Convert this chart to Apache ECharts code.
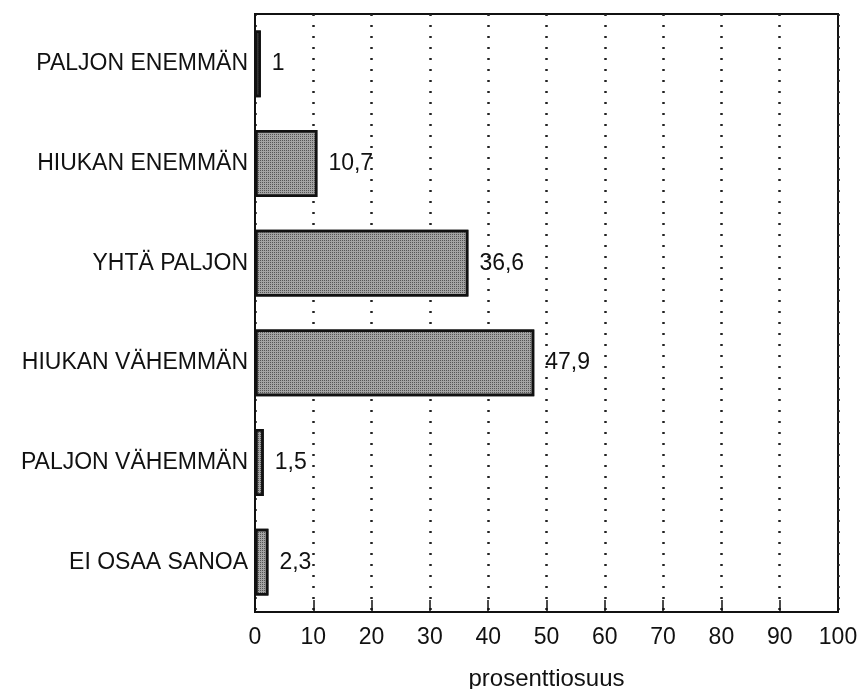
<!DOCTYPE html>
<html>
<head>
<meta charset="utf-8">
<script src="https://cdn.jsdelivr.net/npm/echarts@6/dist/echarts.min.js"></script>
<style>html,body{margin:0;padding:0;background:#fff}#c{width:864px;height:689px}</style>
</head>
<body>
<div id="c"></div>
<script>
const categories = ['PALJON ENEMMÄN', 'HIUKAN ENEMMÄN', 'YHTÄ PALJON', 'HIUKAN VÄHEMMÄN', 'PALJON VÄHEMMÄN', 'EI OSAA SANOA'];
const values = [1, 10.7, 36.6, 47.9, 1.5, 2.3];
const xTicks = [0, 10, 20, 30, 40, 50, 60, 70, 80, 90, 100];
const xName = 'prosenttiosuus';

const font = '"Liberation Sans", Arial, Helvetica, sans-serif';
const chart = echarts.init(document.getElementById('c'), null, {renderer: 'canvas'});
chart.setOption({
  animation: false,
  backgroundColor: '#fff',
  grid: {left: 255, top: 14, right: 26, bottom: 77, containLabel: false, outerBoundsMode: 'none',
    show: true, borderColor: '#111', borderWidth: 2, backgroundColor: 'transparent'},
  xAxis: {
    type: 'value', min: xTicks[0], max: xTicks[xTicks.length - 1], interval: 10,
    name: xName, nameLocation: 'middle', nameGap: 55,
    nameTextStyle: {fontFamily: font, fontSize: 24, color: '#111'},
    axisLine: {show: true, lineStyle: {color: '#111', width: 2}},
    axisTick: {show: true, inside: true, length: 12, lineStyle: {color: '#111', width: 1.5}},
    axisLabel: {fontFamily: font, fontSize: 23, color: '#111', margin: 14},
    splitLine: {show: true, lineStyle: {color: '#222', width: 2.5, type: [2, 9]}}
  },
  yAxis: {
    type: 'category', data: categories, inverse: true,
    axisLine: {show: true, lineStyle: {color: '#111', width: 2}},
    axisTick: {show: false},
    axisLabel: {fontFamily: font, fontSize: 23, color: '#111', margin: 7},
    splitLine: {show: false}
  },
  series: [{
    type: 'bar', data: values, barCategoryGap: '33%',
    itemStyle: {color: '#a4a4a4', borderColor: '#111', borderWidth: 2.5,
      decal: {symbol: 'rect', symbolSize: 1, color: '#555', dashArrayX: [[1, 1]], dashArrayY: [1, 1], rotation: 0}},
    label: {show: true, position: 'right', distance: 11, fontFamily: font, fontSize: 23, color: '#111',
      formatter: p => String(p.value).replace('.', ',')}
  }]
});
</script>
</body>
</html>
